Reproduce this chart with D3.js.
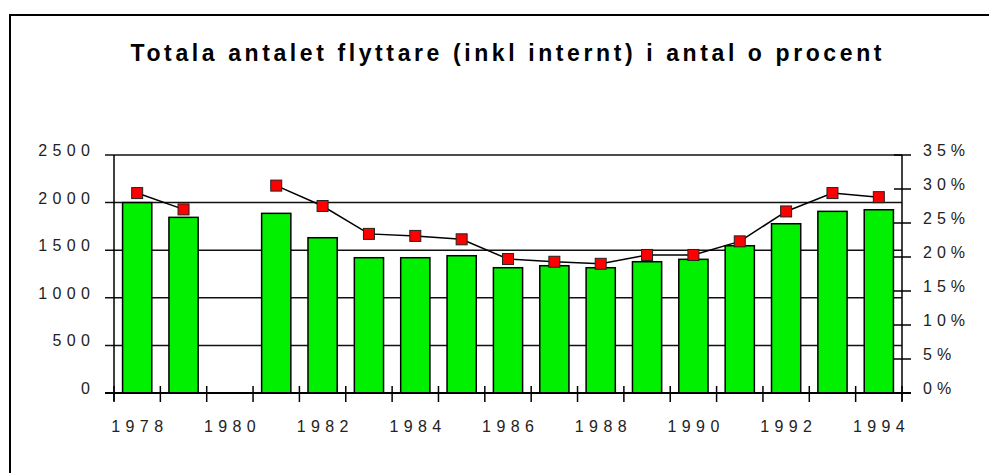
<!DOCTYPE html>
<html>
<head>
<meta charset="utf-8">
<script src="https://cdn.jsdelivr.net/npm/d3@7"></script>
<style>
  html, body { margin: 0; padding: 0; background: #fff; }
  svg { display: block; font-family: "Liberation Sans", Arial, sans-serif; }
</style>
</head>
<body>
<svg id="chart" width="989" height="473"></svg>
<script>
// ==================== DATA ====================
const years = ['1978', '1979', '1980', '1981', '1982', '1983', '1984', '1985', '1986',
  '1987', '1988', '1989', '1990', '1991', '1992', '1993', '1994'];
const movers = [2000, 1845, null, 1887, 1631, 1421, 1421, 1442, 1316,
  1337, 1316, 1379, 1404, 1547, 1778, 1908, 1925];
const moversPct = [29.4, 27.0, null, 30.5, 27.5, 23.4, 23.1, 22.6, 19.7,
  19.3, 19.0, 20.3, 20.3, 22.3, 26.7, 29.4, 28.8];
const leftTicks = [0, 500, 1000, 1500, 2000, 2500];
const rightTicks = [0, 5, 10, 15, 20, 25, 30, 35];
const yearLabels = ['1978', '1980', '1982', '1984', '1986', '1988', '1990', '1992', '1994'];
const chartTitle = 'Totala antalet flyttare (inkl internt) i antal o procent';

// ==================== LAYOUT ====================
const svg = d3.select('#chart');
const plotLeft = 114;
const plotRight = 902;
const plotTop = 155;
const plotBottom = 393;
const labelSize = '16px';
const labelSpacing = 5.4;

const x = d3.scaleBand().domain(years).range([plotLeft, plotRight])
  .paddingInner(0.37).paddingOuter(0.185);
const xEdge = d3.scaleBand().domain(years).range([plotLeft, plotRight]).padding(0);
const yLeft = d3.scaleLinear().domain([0, 2500]).range([plotBottom, plotTop]);
const yRight = d3.scaleLinear().domain([0, 35]).range([plotBottom, plotTop]);

// outer frame (runs off the picture on right and bottom)
svg.append('rect')
  .attr('x', 10).attr('y', 15)
  .attr('width', 1100).attr('height', 600)
  .attr('fill', 'none').attr('stroke', '#000').attr('stroke-width', 2);

// title
svg.append('text')
  .attr('x', 506 + 1.8)
  .attr('y', 61)
  .attr('text-anchor', 'middle')
  .attr('font-size', '23px')
  .attr('font-weight', 'bold')
  .attr('letter-spacing', '3.6px')
  .attr('fill', '#000')
  .text(chartTitle);

// gridlines
svg.append('g')
  .selectAll('line')
  .data(leftTicks.filter((d) => d > 0))
  .join('line')
  .attr('x1', plotLeft - 9)
  .attr('x2', plotRight)
  .attr('y1', (d) => yLeft(d))
  .attr('y2', (d) => yLeft(d))
  .attr('stroke', '#111')
  .attr('stroke-width', 1.5);

// bars
svg.append('g')
  .selectAll('rect')
  .data(years.map((y, i) => ({ year: y, value: movers[i] })).filter((d) => d.value != null))
  .join('rect')
  .attr('x', (d) => x(d.year))
  .attr('y', (d) => yLeft(d.value))
  .attr('width', x.bandwidth())
  .attr('height', (d) => yLeft(0) - yLeft(d.value))
  .attr('fill', '#00f000')
  .attr('stroke', '#000')
  .attr('stroke-width', 1.5);

// left axis
const gl = svg.append('g');
gl.append('line')
  .attr('x1', plotLeft).attr('x2', plotLeft)
  .attr('y1', plotTop).attr('y2', plotBottom + 8)
  .attr('stroke', '#000').attr('stroke-width', 1.5);
gl.selectAll('text')
  .data(leftTicks)
  .join('text')
  .attr('x', 90 + labelSpacing)
  .attr('y', (d) => yLeft(d) + 1)
  .attr('text-anchor', 'end')
  .attr('font-size', labelSize)
  .attr('letter-spacing', labelSpacing + 'px')
  .attr('fill', '#222')
  .text((d) => d);

// right axis
const gr = svg.append('g');
gr.append('line')
  .attr('x1', plotRight).attr('x2', plotRight)
  .attr('y1', plotTop).attr('y2', plotBottom + 8)
  .attr('stroke', '#000').attr('stroke-width', 1.5);
gr.selectAll('line.tick')
  .data(rightTicks)
  .join('line')
  .attr('class', 'tick')
  .attr('x1', plotRight - 8).attr('x2', plotRight + 9)
  .attr('y1', (d) => yRight(d))
  .attr('y2', (d) => yRight(d))
  .attr('stroke', '#000').attr('stroke-width', 1.5);
gr.selectAll('text')
  .data(rightTicks)
  .join('text')
  .attr('x', 923)
  .attr('y', (d) => yRight(d) + 1)
  .attr('font-size', labelSize)
  .attr('letter-spacing', '5px')
  .attr('fill', '#222')
  .text((d) => d + '%');

// x axis
const gx = svg.append('g');
gx.append('line')
  .attr('x1', plotLeft - 9).attr('x2', plotRight + 9)
  .attr('y1', plotBottom).attr('y2', plotBottom)
  .attr('stroke', '#000').attr('stroke-width', 2);
gx.selectAll('line.tick')
  .data([...years.map((y) => xEdge(y)), plotRight])
  .join('line')
  .attr('class', 'tick')
  .attr('x1', (d) => d).attr('x2', (d) => d)
  .attr('y1', plotBottom - 7).attr('y2', plotBottom + 9)
  .attr('stroke', '#000').attr('stroke-width', 1.5);
gx.selectAll('text')
  .data(yearLabels)
  .join('text')
  .attr('x', (d) => x(d) + x.bandwidth() / 2 + labelSpacing / 2)
  .attr('y', 432)
  .attr('text-anchor', 'middle')
  .attr('font-size', labelSize)
  .attr('letter-spacing', labelSpacing + 'px')
  .attr('fill', '#222')
  .text((d) => d);

// percent line
const pts = years.map((y, i) => ({ year: y, value: moversPct[i] }));
const line = d3.line()
  .defined((d) => d.value != null)
  .x((d) => x(d.year) + x.bandwidth() / 2)
  .y((d) => yRight(d.value));
svg.append('path')
  .datum(pts)
  .attr('d', line)
  .attr('fill', 'none')
  .attr('stroke', '#000')
  .attr('stroke-width', 1.5);

const ms = 11;
svg.append('g')
  .selectAll('rect')
  .data(pts.filter((d) => d.value != null))
  .join('rect')
  .attr('x', (d) => x(d.year) + x.bandwidth() / 2 - ms / 2)
  .attr('y', (d) => yRight(d.value) - ms / 2)
  .attr('width', ms)
  .attr('height', ms)
  .attr('fill', '#ff0000')
  .attr('stroke', '#222')
  .attr('stroke-width', 1);
</script>
</body>
</html>
